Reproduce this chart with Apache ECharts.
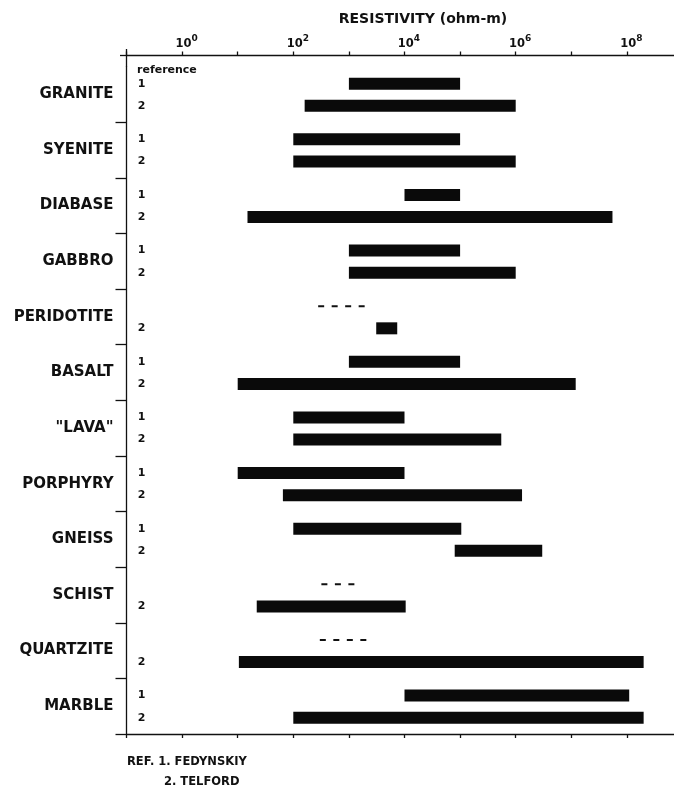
<!DOCTYPE html>
<html>
<head>
<meta charset="utf-8">
<script src="https://cdn.jsdelivr.net/npm/echarts@6/dist/echarts.min.js"></script>
<style>
  html, body { margin: 0; padding: 0; background: #fff; }
  #chart { width: 674px; height: 791px; }
</style>
</head>
<body>
<div id="chart"></div>
<script>
  // rock types, top to bottom
  const rocks = [
    'GRANITE', 'SYENITE', 'DIABASE', 'GABBRO', 'PERIDOTITE', 'BASALT',
    '"LAVA"', 'PORPHYRY', 'GNEISS', 'SCHIST', 'QUARTZITE', 'MARBLE',
  ];

  // resistivity ranges in ohm-m, ref 1 = Fedynskiy
  const ref1 = [
    [1e3, 1e5], [1e2, 1e5], [1e4, 1e5], [1e3, 1e5], [280, 2000], [1e3, 1e5],
    [1e2, 1e4], [10, 1e4], [1e2, 1.05e5], [320, 1700], [300, 2100], [1e4, 1.1e8],
  ];
  // ref 1 only known roughly (drawn dashed)
  const ref1Rough = [false, false, false, false, true, false, false, false, false, true, true, false];

  // ref 2 = Telford
  const ref2 = [
    [160, 1e6], [1e2, 1e6], [15, 5.5e7], [1e3, 1e6], [3100, 7400], [10, 1.2e7],
    [1e2, 5.5e5], [65, 1.3e6], [8e4, 3e6], [22, 1.05e4], [10.5, 2e8], [1e2, 2e8],
  ];

  // decade exponents that get a label on the top axis
  const labelledDecades = [0, 2, 4, 6, 8];

  const ink = '#111';
  const chart = echarts.init(document.getElementById('chart'));

  const rows = [];
  rocks.forEach((name, i) => {
    rows.push([Math.log10(ref1[i][0]), Math.log10(ref1[i][1]), i, 1, ref1Rough[i] ? 1 : 0]);
    rows.push([Math.log10(ref2[i][0]), Math.log10(ref2[i][1]), i, 2, 0]);
  });

  const renderRange = (params, api) => {
    const lo = api.value(0);
    const hi = api.value(1);
    const cat = api.value(2);
    const ref = api.value(3);
    const rough = api.value(4);
    const band = api.size([0, 1])[1];
    const p0 = api.coord([lo, cat]);
    const p1 = api.coord([hi, cat]);
    const y = p0[1] + (ref === 1 ? -0.19 * band : 0.207 * band);
    const children = [];
    if (rough) {
      children.push({
        type: 'line',
        shape: { x1: p0[0], y1: y, x2: p1[0], y2: y },
        style: { stroke: ink, lineWidth: 2, lineDash: [6, 7.5] },
      });
    } else {
      children.push({
        type: 'rect',
        shape: { x: p0[0], y: y - 6, width: p1[0] - p0[0], height: 12 },
        style: { fill: '#0a0a0a' },
      });
      children.push({
        type: 'text',
        x: params.coordSys.x + 15,
        y: y,
        style: {
          text: String(ref),
          align: 'center',
          verticalAlign: 'middle',
          font: 'bold 11px "DejaVu Sans"',
          fill: ink,
        },
      });
    }
    return { type: 'group', children };
  };

  const xBase = {
    type: 'value',
    min: -1,
    max: 9,
    interval: 1,
    gridIndex: 0,
    splitLine: { show: false },
    axisLine: { show: true, onZero: false, lineStyle: { color: ink, width: 1.3 } },
    axisTick: { show: true, length: 4, lineStyle: { color: ink, width: 1.3 } },
  };

  const option = {
    animation: false,
    backgroundColor: '#fff',
    grid: {
      left: 126.5,
      width: 556,
      top: 66.5,
      height: 667.5,
      containLabel: false,
      outerBoundsMode: 'none',
    },
    xAxis: [
      Object.assign({}, xBase, {
        position: 'top',
        offset: 11,
        axisLabel: {
          margin: 5,
          padding: [0, 0, 0, 9],
          formatter: (v) => (labelledDecades.includes(v) ? '{b|10}{s|' + v + '}' : ''),
          rich: {
            b: { fontSize: 11.5, fontWeight: 'bold', fontFamily: 'DejaVu Sans', color: ink, lineHeight: 16, verticalAlign: 'bottom' },
            s: { fontSize: 9, fontWeight: 'bold', fontFamily: 'DejaVu Sans', color: ink, lineHeight: 10, verticalAlign: 'top' },
          },
        },
      }),
      Object.assign({}, xBase, {
        position: 'bottom',
        axisLabel: { show: false },
      }),
    ],
    yAxis: {
      type: 'category',
      inverse: true,
      data: rocks,
      axisLine: { show: true, onZero: false, lineStyle: { color: ink, width: 1.3 } },
      axisTick: {
        show: true,
        length: 11,
        interval: (i) => i !== 0,
        lineStyle: { color: ink, width: 1.3 },
      },
      axisLabel: {
        margin: 13,
        fontSize: 15,
        fontWeight: 'bold',
        fontFamily: 'DejaVu Sans',
        color: ink,
      },
    },
    graphic: [
      {
        type: 'line',
        shape: { x1: 126.5, y1: 49, x2: 126.5, y2: 66.5 },
        style: { stroke: ink, lineWidth: 1.3 },
      },
      {
        type: 'line',
        shape: { x1: 120, y1: 55.5, x2: 126.5, y2: 55.5 },
        style: { stroke: ink, lineWidth: 1.3 },
      },
      {
        type: 'text',
        x: 423,
        y: 19.5,
        style: {
          text: 'RESISTIVITY (ohm-m)',
          align: 'center',
          verticalAlign: 'middle',
          font: 'bold 14px "DejaVu Sans"',
          fill: ink,
        },
      },
      {
        type: 'text',
        x: 137,
        y: 70.5,
        style: {
          text: 'reference',
          align: 'left',
          verticalAlign: 'middle',
          font: 'bold 11px "DejaVu Sans"',
          fill: ink,
        },
      },
      {
        type: 'text',
        x: 127,
        y: 762,
        style: {
          text: 'REF. 1. FEDYNSKIY',
          align: 'left',
          verticalAlign: 'middle',
          font: 'bold 11.5px "DejaVu Sans"',
          fill: ink,
        },
      },
      {
        type: 'text',
        x: 164,
        y: 782,
        style: {
          text: '2. TELFORD',
          align: 'left',
          verticalAlign: 'middle',
          font: 'bold 11.5px "DejaVu Sans"',
          fill: ink,
        },
      },
    ],
    series: [
      {
        type: 'custom',
        xAxisIndex: 0,
        yAxisIndex: 0,
        renderItem: renderRange,
        encode: { x: [0, 1], y: 2 },
        data: rows,
      },
    ],
  };

  chart.setOption(option);
</script>
</body>
</html>
